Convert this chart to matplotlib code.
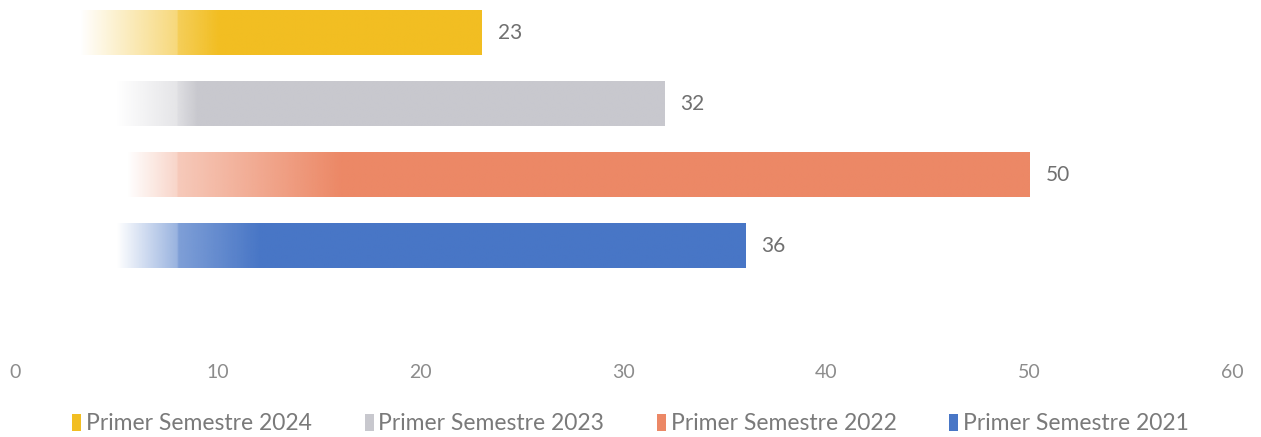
import numpy as np
import matplotlib
matplotlib.use("Agg")
import matplotlib.pyplot as plt
from matplotlib.patches import Patch
from matplotlib.colors import to_rgb

# Data
series = ["Primer Semestre 2024", "Primer Semestre 2023", "Primer Semestre 2022", "Primer Semestre 2021"]
values = [23, 32, 50, 36]
colors = ["#F2BE22", "#C8C8CE", "#EC8866", "#4876C6"]
xticks = [0, 10, 20, 30, 40, 50, 60]

# fade-in styling (start of fade, alpha at x=8, x where full opacity)
fade = [(3.2, 0.75, 10.0), (5.0, 0.6, 9.0), (5.5, 0.45, 16.0), (5.0, 0.7, 12.0)]

plt.rcParams['font.family'] = ['Lato', 'DejaVu Sans']
label_color = "#707070"
tick_color = "#8c8c8c"
legend_color = "#7a7a7a"

W, H = 1261, 437
fig = plt.figure(figsize=(W/100, H/100), dpi=100)
x0px, x1px = 15, 1232
top_px, bot_px = 0, 352
ax = fig.add_axes([x0px/W, 1 - bot_px/H, (x1px - x0px)/W, (bot_px - top_px)/H])

ypos = [3, 2, 1, 0]
bar_h = 0.63
ylim = (0 - (352-246)/71, 3 + 33/71)

for y, v, c, (fs, a8, full) in zip(ypos, values, colors, fade):
    n = 600
    xs = np.linspace(0, v, n)
    alpha = np.interp(xs, [0, fs, 7.99, 8.0, full, v + 1], [0, 0, a8 * 0.8, a8, 1, 1])
    rgb = np.array(to_rgb(c))
    img = np.zeros((1, n, 4))
    img[0, :, :3] = rgb
    img[0, :, 3] = alpha
    ax.imshow(img, extent=[0, v, y - bar_h/2, y + bar_h/2], aspect='auto',
              interpolation='bilinear', zorder=2)
    ax.text(v + 0.8, y, str(v), va='center', ha='left', fontsize=15,
            color=label_color)

ax.set_xticks(xticks)
ax.set_xticklabels([str(t) for t in xticks], fontsize=14, color=tick_color)
ax.tick_params(axis='x', length=0, pad=9)
ax.set_yticks([])
for s in ax.spines.values():
    s.set_visible(False)
ax.set_xlim(0, 60)
ax.set_ylim(*ylim)

handles = [Patch(facecolor=c, edgecolor='none') for c in colors]
leg = fig.legend(handles, series, loc='center', bbox_to_anchor=(0.5, 1 - 424/H), ncol=4,
                 frameon=False, fontsize=16.5, handlelength=0.4, handleheight=0.7,
                 handletextpad=0.2, columnspacing=2.3)
for t in leg.get_texts():
    t.set_color(legend_color)

fig.savefig("out.png", dpi=100)
